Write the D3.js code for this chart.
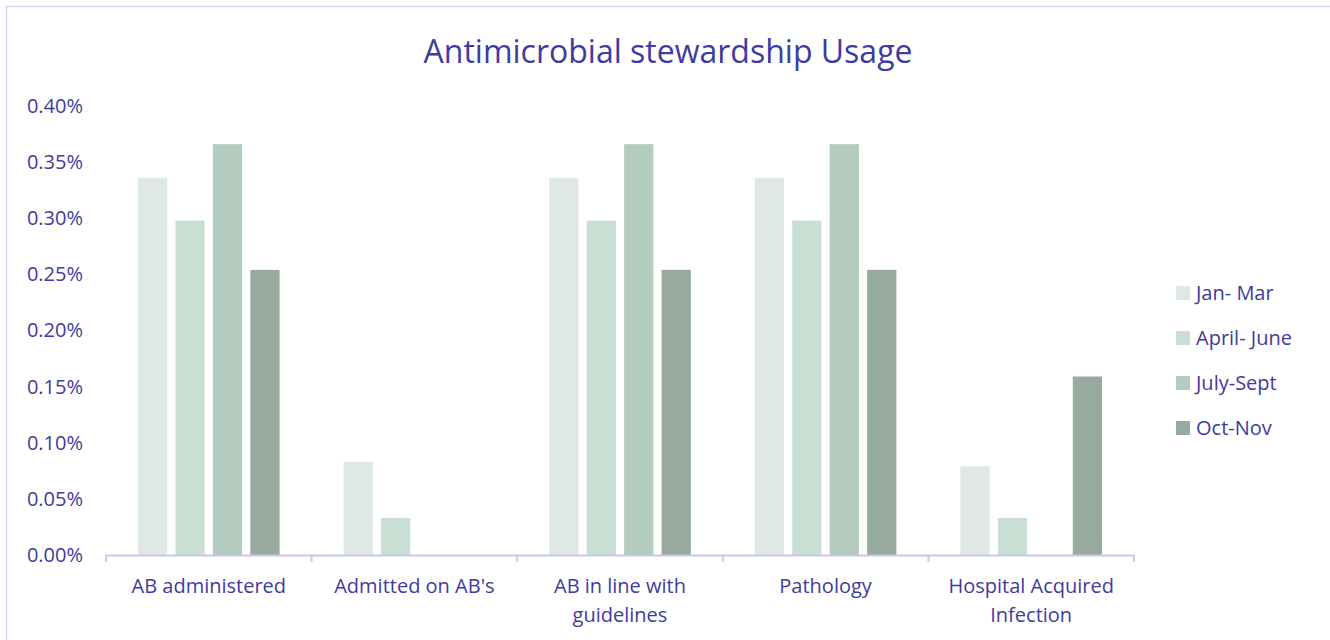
<!DOCTYPE html>
<html>
<head>
<meta charset="utf-8">
<script src="https://cdn.jsdelivr.net/npm/d3@7"></script>
<style>
  body { margin: 0; background: #fff; }
  text { font-family: "Open Sans", "Liberation Sans", sans-serif; }
</style>
</head>
<body>
<div id="chart"></div>
<script>
// chart data (values are percentages)
const categories = ["AB administered", "Admitted on AB's", "AB in line with guidelines", "Pathology", "Hospital Acquired Infection"];
const series = ["Jan- Mar", "April- June", "July-Sept", "Oct-Nov"];
const janMar = [0.336, 0.083, 0.336, 0.336, 0.079];
const aprJun = [0.298, 0.033, 0.298, 0.298, 0.033];
const julSep = [0.366, 0, 0.366, 0.366, 0];
const octNov = [0.254, 0, 0.254, 0.254, 0.159];
const yTicks = [0, 0.05, 0.10, 0.15, 0.20, 0.25, 0.30, 0.35, 0.40];

const colors = ["#dfe8e3", "#cadfd3", "#b4cbbf", "#96aa9e"];
const textColor = "#3f3b9f";
const lineColor = "#cbc6ee";
const fs = "20px";

const W = 1330, H = 640;
const margin = { left: 106, right: 196, top: 106, bottom: 85 };
const width = W - margin.left - margin.right;
const height = H - margin.top - margin.bottom;

const values = [janMar, aprJun, julSep, octNov];
const rows = categories.map((c, i) => ({ cat: c, vals: values.map(v => v[i]) }));

const svg = d3.select("#chart").append("svg")
  .attr("width", W).attr("height", H);

// outer frame
svg.append("rect")
  .attr("x", 6.5).attr("y", 6.5)
  .attr("width", W + 20).attr("height", H + 20)
  .attr("fill", "none").attr("stroke", "#d9d4f6").attr("stroke-width", 1.5);

svg.append("text")
  .attr("x", 668).attr("y", 63)
  .attr("text-anchor", "middle")
  .attr("font-size", "32px")
  .attr("fill", textColor)
  .text("Antimicrobial stewardship Usage");

const g = svg.append("g").attr("transform", `translate(${margin.left},${margin.top})`);

const x0 = d3.scaleBand().domain(categories).range([0, width]).paddingInner(0).paddingOuter(0);
const x1 = d3.scaleBand().domain(series).range([32, x0.bandwidth() - 32]).paddingInner(0.22);
const y = d3.scaleLinear().domain([0, 0.40]).range([height, 0]);

// y axis labels (no line)
const yAxis = g.append("g")
  .call(d3.axisLeft(y).tickValues(yTicks).tickFormat(d => d.toFixed(2) + "%").tickSize(0).tickPadding(23));
yAxis.select(".domain").remove();
yAxis.selectAll("text")
  .attr("font-size", fs)
  .attr("fill", textColor)
  .style("font-family", "'Open Sans', sans-serif");

// bars
const groups = g.selectAll(".grp").data(rows).enter().append("g")
  .attr("transform", d => `translate(${x0(d.cat)},0)`);

groups.selectAll("rect")
  .data(d => d.vals.map((v, i) => ({ s: series[i], v, i })))
  .enter().append("rect")
  .attr("x", d => x1(d.s))
  .attr("width", x1.bandwidth())
  .attr("y", d => y(d.v))
  .attr("height", d => height - y(d.v))
  .attr("fill", d => colors[d.i]);

// x axis
const xAxis = g.append("g")
  .attr("transform", `translate(0,${height})`)
  .call(d3.axisBottom(x0).tickSize(0).tickPadding(16));
xAxis.select(".domain").attr("stroke", lineColor).attr("stroke-width", 2).attr("d", `M0,0.5H${width}`);
xAxis.selectAll(".tick text").remove();

// category boundary ticks
const bounds = categories.map(c => x0(c)).concat([width]);
g.selectAll(".bt").data(bounds).enter().append("line")
  .attr("x1", d => d).attr("x2", d => d)
  .attr("y1", height).attr("y2", height + 7)
  .attr("stroke", lineColor).attr("stroke-width", 2);

// wrapped category labels
function wrapLines(label, maxW) {
  const words = label.split(" ");
  const lines = [];
  let cur = "";
  const probe = svg.append("text").attr("font-size", fs);
  words.forEach(w => {
    const test = cur ? cur + " " + w : w;
    probe.text(test);
    if (probe.node().getComputedTextLength() > maxW && cur) {
      lines.push(cur);
      cur = w;
    } else cur = test;
  });
  lines.push(cur);
  probe.remove();
  return lines;
}

rows.forEach(r => {
  const lines = wrapLines(r.cat, 190);
  const t = g.append("text")
    .attr("x", x0(r.cat) + x0.bandwidth() / 2)
    .attr("y", height + 38)
    .attr("text-anchor", "middle")
    .attr("font-size", fs)
    .attr("fill", textColor);
  lines.forEach((l, i) => t.append("tspan")
    .attr("x", x0(r.cat) + x0.bandwidth() / 2)
    .attr("dy", i === 0 ? 0 : 29)
    .text(l));
});

// legend
const legend = svg.append("g").attr("transform", "translate(1176,286)");
series.forEach((s, i) => {
  const row = legend.append("g").attr("transform", `translate(0,${i * 45})`);
  row.append("rect").attr("width", 14).attr("height", 14).attr("fill", colors[i]);
  row.append("text").attr("x", 20).attr("y", 14)
    .attr("font-size", fs).attr("fill", textColor).text(s);
});
</script>
</body>
</html>
